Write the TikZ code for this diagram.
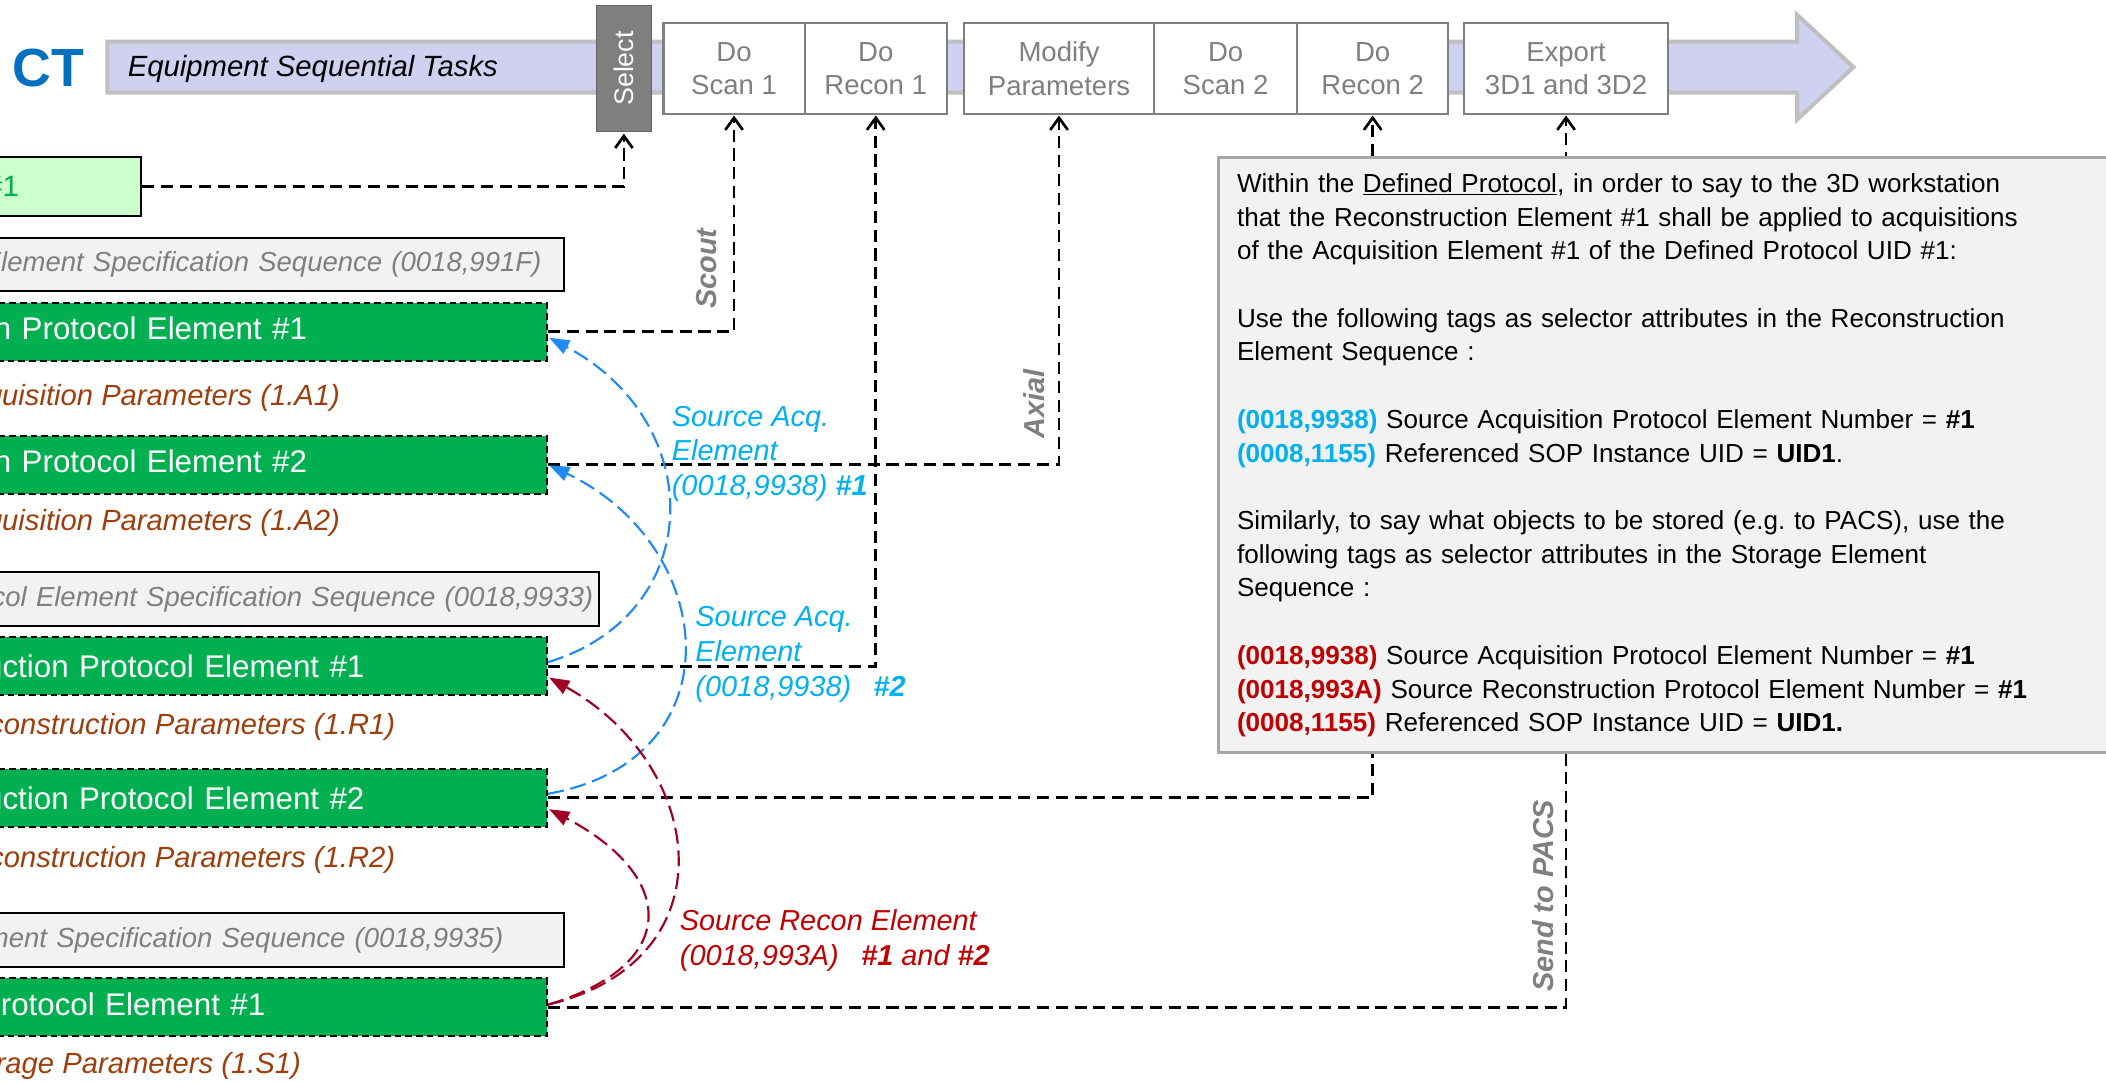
\documentclass[tikz,border=0pt]{standalone}
\usepackage{fontspec}
\setmainfont{Liberation Sans}
\usepackage{graphicx}
\usetikzlibrary{arrows.meta,positioning}

\definecolor{barfill}{RGB}{208,208,240}
\definecolor{barline}{RGB}{191,191,191}
\definecolor{taskgray}{RGB}{127,127,127}
\definecolor{seldark}{RGB}{100,100,100}
\definecolor{boxfill}{RGB}{242,242,242}
\definecolor{notegray}{RGB}{166,166,166}
\definecolor{elemgreen}{RGB}{0,176,80}
\definecolor{lightgreen}{RGB}{204,255,204}
\definecolor{parbrown}{RGB}{158,62,12}
\definecolor{tagcyan}{RGB}{0,176,240}
\definecolor{acqblue}{RGB}{31,138,245}
\definecolor{recred}{RGB}{160,0,33}
\definecolor{tagred}{RGB}{192,0,0}
\definecolor{ctblue}{RGB}{0,112,192}

\begin{document}
\begin{tikzpicture}[
	x = 1pt, y = -1pt, % pixel grid, y grows downwards
	> = {Straight Barb[length=9pt,width=13pt]}, % open arrow head
	shorten > = 1pt, % don't touch arrow head to node
	T/.style={draw=taskgray, line width=1.5pt, fill=white, text=taskgray, minimum height=68pt, inner sep=0pt, outer sep=0pt, align=center, font=\fontsize{20.5}{25}\selectfont},  % task box
	E/.style={draw=black, line width=1.5pt, dash pattern=on 5pt off 3pt, fill=elemgreen, text=white, anchor=east, minimum height=43pt, text width=501.5pt, inner xsep=10pt, align=left, font=\fontsize{23.3}{28}\selectfont},  % protocol element
	Q/.style={draw=black, line width=1.5pt, fill=boxfill, text=taskgray, anchor=east, minimum height=40pt, inner xsep=4pt, align=left, font=\itshape\fontsize{20.5}{24}\selectfont},  % sequence box
	P/.style={anchor=west, inner sep=0pt, text=parbrown, font=\itshape\fontsize{21.75}{26}\selectfont},  % parameters
	R/.style={rotate=90, inner sep=0pt, text=taskgray, font=\bfseries\itshape\fontsize{21.5}{26}\selectfont},  % label on a link
	S/.style={anchor=north west, inner sep=0pt, align=left, font=\itshape\fontsize{21.5}{26}\selectfont},  % label on a curve
	N/.style={draw=notegray, line width=2pt, fill=boxfill, anchor=north west, text width=700pt, minimum height=443pt, inner xsep=14pt, align=left, font=\fontsize{19.4}{25.1}\selectfont},  % note
	L/.style={draw=black, line width=2pt, dash pattern=on 9pt off 5pt, ->},
	A/.style={draw=acqblue, line width=1.6pt, dash pattern=on 12pt off 5pt, -{Triangle[length=15pt,width=11pt]}},
	C/.style={draw=recred, line width=1.6pt, dash pattern=on 12pt off 5pt, -{Triangle[length=15pt,width=11pt]}},
	]
	\useasboundingbox (0,0) rectangle (1568,805);
	\clip (0,0) rectangle (1568,805);

	% Task bar
	\draw[line width=3pt, draw=barline, fill=barfill] (80,31) -- (1338,31) -- (1338,11) -- (1380,50) -- (1338,89) -- (1338,69) -- (80,69) -- cycle;
	\node[text=ctblue, inner sep=0pt, font=\bfseries\fontsize{40}{48}\selectfont] (CT) at (36,51) {CT};
	\node[anchor=west, inner sep=0pt, font=\itshape\fontsize{21.8}{26}\selectfont] (EST) at (95,51) {Equipment Sequential Tasks};
	\node[draw=seldark, line width=1pt, fill=taskgray, minimum width=41pt, minimum height=94pt, inner sep=0pt, text=white, font=\fontsize{20}{24}\selectfont] (Sel) at (464.5,51) {\rotatebox{90}{Select}};
	\node[T, minimum width=105pt, anchor=west] (Sc1) at (494,51) {Do\\Scan 1};
	\node[T, minimum width=106pt, right=0pt of Sc1] (Re1) {Do\\Recon 1};
	\node[T, minimum width=141pt, right=13pt of Re1] (Mod) {Modify\\Parameters};
	\node[T, minimum width=107pt, right=0pt of Mod] (Sc2) {Do\\Scan 2};
	\node[T, minimum width=112pt, right=0pt of Sc2] (Re2) {Do\\Recon 2};
	\node[T, minimum width=152pt, right=12pt of Re2] (Exp) {Export\\3D1 and 3D2};

	% Defined protocol items
	\node[draw=black, line width=1.5pt, fill=lightgreen, text=elemgreen, anchor=east, minimum height=44pt, text width=105.5pt, inner xsep=10pt, align=left, font=\fontsize{22}{26}\selectfont] (UID) at (106,139) {\#1};
	\node[Q, text width=616.5pt] (AQ) at (420.5,197) {Acquisition Protocol Element Specification Sequence (0018,991F)};
	\node[E] (A1) at (408,247) {Acquisition Protocol Element \#1};
	\node[P] (PA1) at (-36,296.5) {Acquisition Parameters (1.A1)};
	\node[E] (A2) at (408,346) {Acquisition Protocol Element \#2};
	\node[P] (PA2) at (-36,389.5) {Acquisition Parameters (1.A2)};
	\node[Q, text width=643pt, inner xsep=2pt] (RQ) at (447,446) {Reconstruction Protocol Element Specification Sequence (0018,9933)};
	\node[E] (R1) at (408,496) {Reconstruction Protocol Element \#1};
	\node[P] (PR1) at (-36,541) {Reconstruction Parameters (1.R1)};
	\node[E] (R2) at (408,594) {Reconstruction Protocol Element \#2};
	\node[P] (PR2) at (-36,640.5) {Reconstruction Parameters (1.R2)};
	\node[Q, text width=616.5pt] (SQ) at (420.5,700) {Storage Protocol Element Specification Sequence (0018,9935)};
	\node[E] (S1) at (408,750) {Storage Protocol Element \#1};
	\node[P] (PS1) at (-36,794) {Storage Parameters (1.S1)};

	% Items to tasks
	\draw[L] (UID.east) -| (Sel.south);
	\draw[L] (A1.east) -| (Sc1.south);
	\draw[L] (A2.east) -| (Mod.south);
	\draw[L] (R1.east) -| (Re1.south);
	\draw[L] (R2.east) -| (Re2.south);
	\draw[L] (S1.east) -| (Exp.south);

	% Source references
	\draw[A] ([yshift=3pt]R1.east) .. controls +(119,-36) and +(119,63) .. ([yshift=-4pt]A1.east);
	\draw[A] ([yshift=3pt]R2.east) .. controls +(142,-25) and +(127,60) .. (A2.east);
	\draw[C] ([yshift=2pt]S1.east) .. controls +(137,-33) and +(118,66) .. ([yshift=-8pt]R1.east);
	\draw[C] ([yshift=2pt]S1.east) .. controls +(100,-30) and +(95,50) .. ([yshift=-8pt]R2.east);

	% Note
	\node[N] (Note) at (906,116.5) {Within the \underline{Defined Protocol}, in order to say to the 3D workstation\\
		that the Reconstruction Element \#1 shall be applied to acquisitions\\
		of the Acquisition Element \#1 of the Defined Protocol UID \#1:\\[25.1pt]
		Use the following tags as selector attributes in the Reconstruction\\
		Element Sequence :\\[25.1pt]
		\textcolor{tagcyan}{\textbf{(0018,9938)}} Source Acquisition Protocol Element Number = \textbf{\#1}\\
		\textcolor{tagcyan}{\textbf{(0008,1155)}} Referenced SOP Instance UID = \textbf{UID1}.\\[25.1pt]
		Similarly, to say what objects to be stored (e.g.\ to PACS), use the\\
		following tags as selector attributes in the Storage Element\\
		Sequence :\\[25.1pt]
		\textcolor{tagred}{\textbf{(0018,9938)}} Source Acquisition Protocol Element Number = \textbf{\#1}\\
		\textcolor{tagred}{\textbf{(0018,993A)}} Source Reconstruction Protocol Element Number = \textbf{\#1}\\
		\textcolor{tagred}{\textbf{(0008,1155)}} Referenced SOP Instance UID = \textbf{UID1.}};

	% Labels
	\node[R] (Scout) at (526,200) {Scout};
	\node[R] (Axial) at (770,301) {Axial};
	\node[R] (PACS) at (1149,667) {Send to PACS};
	\node[S, text=tagcyan] (SA1) at (500,302) {Source Acq.\\Element\\(0018,9938) \textbf{\#1}};
	\node[S, text=tagcyan] (SA2) at (517.6,451) {Source Acq.\\Element\\(0018,9938)\hspace{0.5em} \textbf{\#2}};
	\node[S, text=tagred] (SR) at (506,677) {Source Recon Element\\(0018,993A)\hspace{0.5em} \textbf{\#1} and \textbf{\#2}};

\end{tikzpicture}
\end{document}
